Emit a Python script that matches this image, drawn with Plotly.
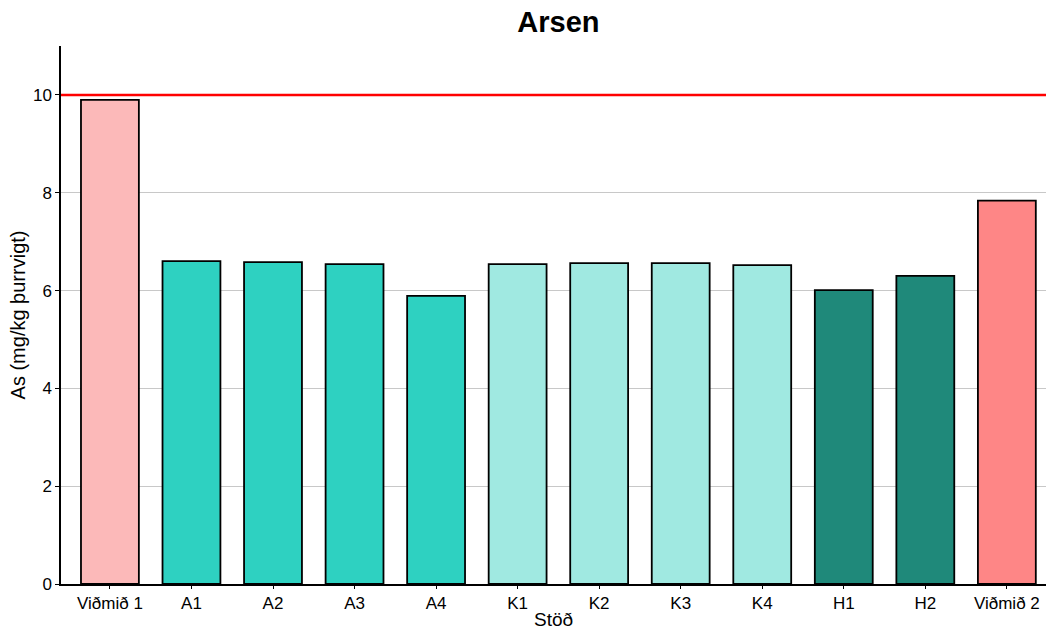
import plotly.graph_objects as go

categories = ["Viðmið 1", "A1", "A2", "A3", "A4", "K1", "K2", "K3", "K4", "H1", "H2", "Viðmið 2"]
values = [9.9, 6.6, 6.58, 6.54, 5.89, 6.54, 6.56, 6.56, 6.52, 6.01, 6.30, 7.84]
colors = ["#FCB9B9", "#2ED1C1", "#2ED1C1", "#2ED1C1", "#2ED1C1",
          "#A0E9E1", "#A0E9E1", "#A0E9E1", "#A0E9E1",
          "#1F897A", "#1F897A", "#FE8686"]
limit_value = 10
y_ticks = [0, 2, 4, 6, 8, 10]

x_pos = list(range(len(categories)))

fig = go.Figure()
fig.add_trace(go.Bar(
    x=x_pos, y=values, width=0.71,
    marker=dict(color=colors, line=dict(color="black", width=1.8)),
    showlegend=False,
))
fig.add_shape(type="line", xref="paper", x0=0, x1=1, yref="y", y0=limit_value, y1=limit_value,
              line=dict(color="#FF0000", width=2.5), layer="above")

font_family = "Liberation Sans, Arial, sans-serif"
fig.update_layout(
    width=1046, height=630,
    margin=dict(l=61, r=0, t=46, b=46),
    plot_bgcolor="white", paper_bgcolor="white",
    font=dict(family=font_family, color="black"),
    title=dict(text="<b>Arsen</b>", xref="paper", x=0.505, xanchor="center", y=0.965, yanchor="middle",
               font=dict(size=29, family=font_family, color="black")),
    xaxis=dict(
        range=[-0.6, 11.48], tickmode="array", tickvals=x_pos, ticktext=categories,
        showline=True, linecolor="black", linewidth=1.5, ticks="outside", ticklen=3,
        tickcolor="black", showgrid=False, zeroline=False,
        tickfont=dict(size=17), title=dict(text="Stöð", font=dict(size=19), standoff=1),
    ),
    yaxis=dict(
        range=[0, 11], tickmode="array", tickvals=y_ticks,
        showline=True, linecolor="black", linewidth=1.5, ticks="outside", ticklen=4,
        tickcolor="black", showgrid=True, gridcolor="#C8C8C8", gridwidth=1.4, zeroline=False,
        tickfont=dict(size=17), title=dict(text="As (mg/kg þurrvigt)", font=dict(size=20), standoff=2),
    ),
    bargap=0.29,
)

fig.write_html("out.html", config={"displayModeBar": False},
               post_script="document.body.style.margin='0';document.body.style.overflow='hidden';")
